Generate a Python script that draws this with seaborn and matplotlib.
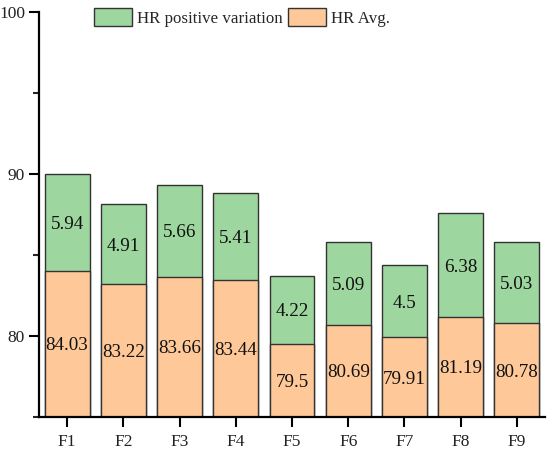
import matplotlib
matplotlib.use("Agg")
import matplotlib.pyplot as plt
import seaborn as sns
import pandas as pd
from matplotlib.patches import Patch
from matplotlib.ticker import MultipleLocator

categories = ["F1", "F2", "F3", "F4", "F5", "F6", "F7", "F8", "F9"]
hr_avg = [84.03, 83.22, 83.66, 83.44, 79.5, 80.69, 79.91, 81.19, 80.78]
hr_var = [5.94, 4.91, 5.66, 5.41, 4.22, 5.09, 4.5, 6.38, 5.03]
avg_labels = ["84.03", "83.22", "83.66", "83.44", "79.5", "80.69", "79.91", "81.19", "80.78"]
var_labels = ["5.94", "4.91", "5.66", "5.41", "4.22", "5.09", "4.5", "6.38", "5.03"]

GREEN = "#9dd69e"
ORANGE = "#fec898"
EDGE = "#333333"

sns.set_theme(style="ticks")
plt.rcParams["font.family"] = ["Liberation Serif", "DejaVu Serif"]

df = pd.DataFrame({"cat": categories, "avg": hr_avg, "var": hr_var})
df["total"] = df["avg"] + df["var"]

fig = plt.figure(figsize=(5.5, 4.53), dpi=100)
ax = fig.add_axes([39 / 550, 1 - 417 / 453, (545 - 39) / 550, (417 - 12) / 453])

sns.barplot(data=df, x="cat", y="total", color=GREEN, edgecolor=EDGE,
            linewidth=1.0, width=0.8, saturation=1, ax=ax)
sns.barplot(data=df, x="cat", y="avg", color=ORANGE, edgecolor=EDGE,
            linewidth=1.0, width=0.8, saturation=1, ax=ax)

ymin = 75
ax.set_ylim(ymin, 100)
ax.set_xlim(-0.5, len(categories) - 0.5)
ax.yaxis.set_major_locator(MultipleLocator(10))
ax.yaxis.set_minor_locator(MultipleLocator(5))

for i in range(len(categories)):
    ax.text(i, (ymin + hr_avg[i]) / 2, avg_labels[i], ha="center", va="center_baseline",
            fontsize=13.7, color="#111111")
    ax.text(i, hr_avg[i] + hr_var[i] / 2, var_labels[i], ha="center", va="center_baseline",
            fontsize=13.7, color="#111111")

ax.set_xlabel("")
ax.set_ylabel("")
sns.despine(ax=ax)
for s in ["left", "bottom"]:
    ax.spines[s].set_linewidth(1.6)
    ax.spines[s].set_color("black")
ax.tick_params(axis="both", which="major", length=7, width=1.5, direction="out",
               labelsize=12.5, colors="black", labelcolor="#222222")
ax.tick_params(axis="y", which="major", pad=3)
ax.tick_params(axis="x", which="major", pad=5)
ax.tick_params(axis="y", which="minor", length=4, width=1.5, direction="out")

handles = [Patch(facecolor=GREEN, edgecolor=EDGE, linewidth=1.0, label="HR positive variation"),
           Patch(facecolor=ORANGE, edgecolor=EDGE, linewidth=1.0, label="HR Avg.")]
fig.legend(handles=handles, loc="upper left", ncol=2, frameon=False,
           bbox_to_anchor=(94 / 550, 1 - 8 / 453), bbox_transform=fig.transFigure,
           borderpad=0, borderaxespad=0, handlelength=2.25, handleheight=1.3,
           handletextpad=0.3, columnspacing=0.3, fontsize=12.2)

fig.savefig("out.png", dpi=100)
